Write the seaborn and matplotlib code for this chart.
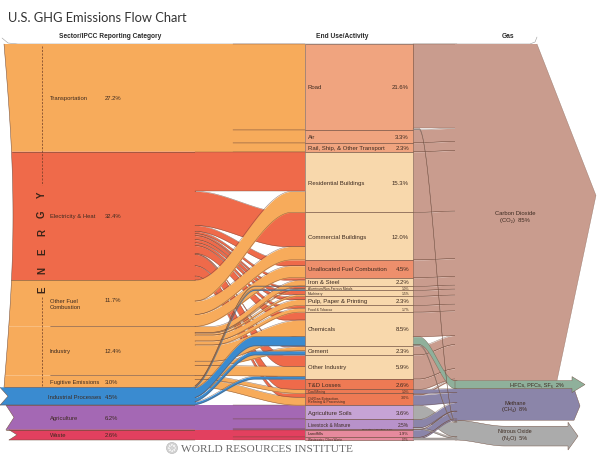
import numpy as np
import matplotlib
matplotlib.use("Agg")
import matplotlib.pyplot as plt
import seaborn as sns
from matplotlib.patches import Polygon, Circle, Rectangle

sns.set_theme(style="white")
plt.rcParams['font.family'] = ['Liberation Sans', 'DejaVu Sans']

# ---------------- DATA ----------------
sector_ids = ["trans", "elec", "fuel", "ind", "fug", "proc", "agri", "waste"]
sector_labels = ["Transportation", "Electricity & Heat", "Other Fuel\nCombustion", "Industry",
                 "Fugitive Emissions", "Industrial Processes", "Agriculture", "Waste"]
sector_pct = [27.2, 32.4, 11.7, 12.4, 3.0, 4.5, 6.2, 2.6]

end_ids = ["road", "air", "rail", "res", "com", "unal", "iron", "alu", "mach", "pulp", "food",
           "chem", "cem", "oind", "td", "coal", "oil", "soil", "live", "rice", "land", "wwater"]
end_labels = ["Road", "Air", "Rail, Ship, & Other Transport", "Residential Buildings",
              "Commercial Buildings", "Unallocated Fuel Combustion", "Iron & Steel",
              "Aluminum/Non-Ferrous Metals", "Machinery", "Pulp, Paper & Printing",
              "Food & Tobacco", "Chemicals", "Cement", "Other Industry", "T&D Losses",
              "Coal Mining", "Oil/Gas Extraction,\nRefining & Processing", "Agriculture Soils",
              "Livestock & Manure", "Rice/Other Agriculture", "Landfills", "Wastewater, Other Waste"]
end_pct = [21.6, 3.3, 2.3, 15.3, 12.0, 4.5, 2.2, 1.0, 1.5, 2.3, 1.7,
           8.5, 2.3, 5.9, 2.6, 1.0, 3.0, 3.6, 2.5, 0.1, 1.9, 0.7]

gas_ids = ["co2", "hfc", "ch4", "n2o"]
gas_labels = ["Carbon Dioxide\n(CO\u2082)  85%", "HFCs, PFCs, SF\u2086  2%",
              "Methane\n(CH\u2084)  8%", "Nitrous Oxide\n(N\u2082O)  5%"]
gas_pct = [85, 2, 8, 5]

# sector -> end use
flow_src = (["trans"] * 3 + ["elec"] * 13 + ["fuel"] * 3 + ["ind"] * 8 + ["fug"] * 2 +
            ["proc"] * 5 + ["agri"] * 3 + ["waste"] * 2)
flow_dst = ["road", "air", "rail",
            "res", "com", "unal", "iron", "alu", "mach", "pulp", "food", "chem", "cem", "oind", "td", "oil",
            "res", "com", "unal",
            "iron", "alu", "mach", "pulp", "food", "chem", "cem", "oind",
            "coal", "oil",
            "iron", "alu", "chem", "cem", "oind",
            "soil", "live", "rice",
            "land", "wwater"]
flow_val = [21.6, 3.3, 2.3,
            10.0, 8.6, 1.5, 0.6, 0.5, 1.0, 0.8, 0.7, 2.0, 0.2, 2.9, 2.6, 1.0,
            5.3, 3.4, 3.0,
            1.5, 0.2, 0.5, 1.5, 1.0, 4.1, 1.1, 2.5,
            1.0, 2.0,
            0.1, 0.3, 2.4, 1.0, 0.7,
            3.6, 2.5, 0.1,
            1.9, 0.7]

# end use -> gas
gflow_src = ["road", "road", "air", "rail", "res", "com", "unal", "iron", "alu", "mach", "pulp",
             "food", "chem", "chem", "chem", "cem", "oind", "td", "coal", "oil", "oil", "soil",
             "live", "live", "rice", "land", "wwater", "wwater"]
gflow_dst = ["co2", "n2o", "co2", "co2", "co2", "co2", "co2", "co2", "co2", "co2", "co2",
             "co2", "co2", "hfc", "n2o", "co2", "co2", "co2", "ch4", "co2", "ch4", "n2o",
             "ch4", "n2o", "ch4", "ch4", "ch4", "n2o"]
gflow_val = [21.3, 0.3, 3.3, 2.3, 15.3, 12.0, 4.5, 2.2, 1.0, 1.5, 2.3,
             1.7, 6.2, 2.0, 0.3, 2.3, 6.1, 2.6, 1.0, 0.4, 2.6, 3.6,
             2.1, 0.4, 0.1, 1.9, 0.3, 0.4]

# ---------------- STYLE / LAYOUT ----------------
W, H = 600, 456
TOP = 45
S = 3.96          # px per percent
XL1 = 195         # right edge of sector boxes
XM0, XM1 = 305, 413
XG0 = 455
EDGE = "#6e4b3c"
TXT = "#3c2a20"

sector_colors = {"trans": "#F7AB5B", "elec": "#EF6A4A", "fuel": "#F7AB5B", "ind": "#F7AB5B",
                 "fug": "#F7AB5B", "proc": "#3A8BD0", "agri": "#A468B4", "waste": "#E2405F"}
end_colors = {}
for e in end_ids:
    if e in ("road", "air", "rail"):
        end_colors[e] = "#F0A47F"
    elif e == "unal":
        end_colors[e] = "#EE8F6C"
    elif e in ("td", "coal", "oil"):
        end_colors[e] = "#EE7A54"
    elif e == "soil":
        end_colors[e] = "#C6A3D5"
    elif e in ("live", "rice"):
        end_colors[e] = "#B892CA"
    elif e in ("land", "wwater"):
        end_colors[e] = "#E68A9D"
    else:
        end_colors[e] = "#F8D8AC"
gas_colors = {"co2": "#C99C8E", "hfc": "#8FB09B", "ch4": "#8B85A9", "n2o": "#ABABAB"}
curve_range = {"trans": (195, 305), "elec": (195, 285), "fuel": (195, 292), "ind": (212, 300),
               "fug": (200, 298), "proc": (190, 255), "agri": (195, 305), "waste": (195, 305)}

fig = plt.figure(figsize=(W / 100, H / 100), dpi=100)
ax = fig.add_axes([0, 0, 1, 1])
ax.set_xlim(0, W)
ax.set_ylim(H, 0)
ax.axis("off")
fig.patch.set_facecolor("white")


def smooth(u):
    u = np.clip(u, 0, 1)
    return u * u * (3 - 2 * u)


def band(x0, x1, cx0, cx1, ya0, yb0, ya1, yb1, color, z, lw=0.35, line_from=None):
    xs = np.concatenate([[x0], np.linspace(cx0, cx1, 120), [x1]])
    s = smooth((xs - cx0) / (cx1 - cx0))
    top = ya0 + (ya1 - ya0) * s
    bot = yb0 + (yb1 - yb0) * s
    ax.fill_between(xs, top, bot, color=color, lw=0, zorder=z)
    keep = xs >= (line_from if line_from is not None else x0)
    ax.plot(xs[keep], top[keep], color=EDGE, lw=lw, zorder=z, alpha=0.75)
    ax.plot(xs[keep], bot[keep], color=EDGE, lw=lw, zorder=z, alpha=0.75)


def stack(order, vals):
    pos, c = {}, 0.0
    for k, v in zip(order, vals):
        pos[k] = TOP + c * S
        c += v
    return pos


# node sizes
end_val = {e: 0.0 for e in end_ids}
for d, v in zip(flow_dst, flow_val):
    end_val[d] += v
gas_val = {g: 0.0 for g in gas_ids}
for d, v in zip(gflow_dst, gflow_val):
    gas_val[d] += v

sec_top = stack(sector_ids, sector_pct)
sec_h = dict(zip(sector_ids, sector_pct))
end_top = stack(end_ids, [end_val[e] for e in end_ids])
gas_top = stack(gas_ids, [gas_val[g] for g in gas_ids])


def link_positions(src, dst, val, src_order, dst_order, src_top, dst_top):
    n = len(val)
    idx_out = sorted(range(n), key=lambda i: (src_order.index(src[i]), dst_order.index(dst[i])))
    idx_in = sorted(range(n), key=lambda i: (dst_order.index(dst[i]), src_order.index(src[i])))
    y0 = [0] * n
    y1 = [0] * n
    off = {}
    for i in idx_out:
        o = off.get(src[i], src_top[src[i]])
        y0[i] = o
        off[src[i]] = o + val[i] * S
    off = {}
    for i in idx_in:
        o = off.get(dst[i], dst_top[dst[i]])
        y1[i] = o
        off[dst[i]] = o + val[i] * S
    return y0, y1


# ---------------- sector boxes ----------------
energy_bottom = sec_top["fug"] + sec_h["fug"] * S


def left_x(y):
    return 4 + 9 * np.sin(np.pi * np.clip((y - TOP) / (energy_bottom - TOP), 0, 1))


for sid in sector_ids:
    y0 = sec_top[sid]
    y1 = y0 + sec_h[sid] * S
    if sid in ("proc", "agri", "waste"):
        lx = {"proc": 0, "agri": 6, "waste": 9}[sid]
        left = [(lx, y1), (lx + 8, (y0 + y1) / 2), (lx, y0)]
        pts = [(XL1 + 1, y0), (XL1 + 1, y1)] + left
        ax.plot([p[0] for p in left], [p[1] for p in left], color=EDGE, lw=0.35, zorder=1.2)
        ax.plot([lx, XL1], [y1, y1], color=EDGE, lw=0.35, zorder=1.2)
    else:
        ys = np.linspace(y0, y1, 30)
        left = [(left_x(y), y) for y in ys[::-1]]
        pts = [(XL1 + 1, y0), (XL1 + 1, y1)] + left
        ax.plot([p[0] for p in left], [p[1] for p in left], color=EDGE, lw=0.35, zorder=1.2)
    ax.add_patch(Polygon(pts, closed=True, facecolor=sector_colors[sid], edgecolor="none", zorder=1))

# separators between sectors
for sid in sector_ids[1:]:
    y = sec_top[sid]
    xs0 = 50 if sid in ("ind", "fug") else (left_x(y) if sid not in ("agri", "waste") else 6)
    ax.plot([xs0, XL1], [y, y], color=EDGE, lw=0.4, zorder=1.5)

# ---------------- sector -> end use links ----------------
y0s, y1s = link_positions(flow_src, flow_dst, flow_val, sector_ids, end_ids, sec_top, end_top)
draw_order = ["trans", "agri", "waste", "elec", "fuel", "ind", "fug", "proc"]
for k, sid in enumerate(draw_order):
    for i in range(len(flow_val)):
        if flow_src[i] != sid:
            continue
        h = flow_val[i] * S
        cx0, cx1 = curve_range[sid]
        lf = 232 if sid in ("trans", "agri", "waste") else None
        band(XL1, XM0, cx0, cx1, y0s[i], y0s[i] + h, y1s[i], y1s[i] + h,
             sector_colors[sid], 2 + k * 0.1, line_from=lf)

# ---------------- end use boxes ----------------
for e in end_ids:
    y0 = end_top[e]
    h = end_val[e] * S
    ax.add_patch(Rectangle((XM0, y0), XM1 - XM0, h, facecolor=end_colors[e],
                           edgecolor=EDGE, lw=0.4, zorder=3))

# ---------------- end use -> gas links ----------------
g0s, g1s = link_positions(gflow_src, gflow_dst, gflow_val, end_ids, gas_ids, end_top, gas_top)
order_g = sorted(range(len(gflow_val)), key=lambda i: (gflow_dst[i] != "co2", gflow_val[i] < 1))
for i in order_g:
    h = gflow_val[i] * S
    z = 2.0 if gflow_dst[i] == "co2" else 4.2
    band(XM1, XG0 + 2, XM1 + 6, XG0, g0s[i], g0s[i] + h, g1s[i], g1s[i] + h,
         gas_colors[gflow_dst[i]], z, lw=0.3)

# ---------------- gas nodes ----------------
def gtb(g):
    return gas_top[g], gas_top[g] + gas_val[g] * S


t, b = gtb("co2")
ax.add_patch(Polygon([(XG0, t), (537, t), (596, t + 0.45 * (b - t)), (557, b), (XG0, b)],
                     closed=True, facecolor=gas_colors["co2"], edgecolor="none", zorder=2.5))
ax.plot([537, 596, 557], [t, t + 0.45 * (b - t), b], color=EDGE, lw=0.3, alpha=0.6, zorder=2.6)

t, b = gtb("hfc")
m = (t + b) / 2
ax.add_patch(Polygon([(XG0, t), (572, t), (572, t - 4), (585, m), (572, b + 4), (572, b), (XG0, b)],
                     closed=True, facecolor=gas_colors["hfc"], edgecolor=EDGE, lw=0.3, zorder=4.3))

t, b = gtb("ch4")
ax.add_patch(Polygon([(XG0, t), (574, t), (580, t + 0.55 * (b - t)), (574, b), (XG0, b)],
                     closed=True, facecolor=gas_colors["ch4"], edgecolor=EDGE, lw=0.3, zorder=4.1))

t, b = gtb("n2o")
xs = np.linspace(XG0, 505, 40)
dy = 6 * smooth((xs - XG0) / (505 - XG0))
top_pts = [(x, t + d) for x, d in zip(xs, dy)] + [(568, t + 6)]
bot_pts = [(568, b + 6)] + [(x, b + d) for x, d in zip(xs[::-1], dy[::-1])]
tip = [(568, t + 2), (578, (t + b) / 2 + 6), (568, b + 10)]
ax.add_patch(Polygon(top_pts + tip + bot_pts, closed=True, facecolor=gas_colors["n2o"],
                     edgecolor=EDGE, lw=0.3, zorder=4.0))

# ---------------- text ----------------
ax.text(8, 18, "U.S. GHG Emissions Flow Chart", fontsize=9.3, family=["Lato", "DejaVu Sans"],
        color="#333333", va="center", ha="left")
hdr = dict(fontsize=4.8, fontweight="bold", color="#2a2a2a", va="center", ha="center")
ax.text(110, 37, "Sector/IPCC Reporting Category", **hdr)
ax.text(342, 37, "End Use/Activity", **hdr)
ax.text(508, 37, "Gas", **hdr)
# header tab outline
ax.plot([2, 8, 18, 530, 535, 537], [39, 44, TOP, TOP, 43, 38], color="#999999", lw=0.4, zorder=0.5)

for sid, lab, v in zip(sector_ids, sector_labels, sector_pct):
    yc = sec_top[sid] + v * S / 2
    vy = yc - 4 if "\n" in lab else yc
    lx = 48 if sid == "proc" else 50
    ax.text(lx, yc, lab, fontsize=4.2, color=TXT, va="center", ha="left", linespacing=1.3, zorder=6)
    ax.text(105, vy, f"{v:.1f}%", fontsize=4.2, color=TXT, va="center", ha="left", zorder=6)

small = {"alu": 2.3, "mach": 2.4, "food": 2.4, "coal": 2.3, "oil": 2.7, "wwater": 2.2,
         "live": 3.4, "land": 3.2, "rice": 1.7}
for e, lab, v in zip(end_ids, end_labels, end_pct):
    fs = small.get(e, 4.3)
    yc = end_top[e] + end_val[e] * S / 2
    if e == "rice":
        ax.text(362, yc - 1.5, f"{lab}  {v:.1f}%", fontsize=fs, color=TXT, va="center",
                ha="left", zorder=6)
        continue
    vy = yc - 2.2 if "\n" in lab else yc
    ax.text(308, yc, lab, fontsize=fs, color=TXT, va="center", ha="left", linespacing=0.95, zorder=6)
    ax.text(409, vy, f"{v:.1f}%", fontsize=fs, color=TXT, va="center", ha="right", zorder=6)

for g, lab in zip(gas_ids, gas_labels):
    t, b = gtb(g)
    if g == "co2":
        ax.text(515, 217, lab, fontsize=4.2, color=TXT, ha="center", va="center", linespacing=1.4, zorder=6)
    elif g == "hfc":
        ax.text(537, (t + b) / 2, lab, fontsize=4.0, color=TXT, ha="center", va="center", zorder=6)
    elif g == "ch4":
        ax.text(515, (t + b) / 2 + 1, lab, fontsize=4.0, color=TXT, ha="center", va="center",
                linespacing=1.4, zorder=6)
    else:
        ax.text(515, (t + b) / 2 + 4, lab, fontsize=4.0, color=TXT, ha="center", va="center",
                linespacing=1.4, zorder=6)

# ENERGY vertical label
for i, ch in enumerate("ENERGY"):
    ax.text(42, 290 - i * 19, ch, fontsize=7, fontweight="bold", color="#3a2418",
            rotation=90, ha="center", va="center", zorder=6)
ax.plot([42, 42], [TOP + 2, 186], color="#6b3a25", lw=0.5, ls=(0, (3, 2)), zorder=6)
ax.plot([42, 42], [298, energy_bottom], color="#6b3a25", lw=0.5, ls=(0, (3, 2)), zorder=6)

# WRI footer
ax.add_patch(Circle((172, 449), 5.5, facecolor="#d8d8d8", edgecolor="#bbbbbb", lw=0.5, zorder=6))
for a in np.linspace(0, 2 * np.pi, 8, endpoint=False):
    ax.add_patch(Circle((172 + 3 * np.cos(a), 449 + 3 * np.sin(a)), 1.6, facecolor="#f2f2f2",
                        edgecolor="#c0c0c0", lw=0.3, zorder=6.1))
ax.text(181, 449.5, "WORLD RESOURCES INSTITUTE", fontsize=8.2,
        family=["Liberation Serif", "DejaVu Serif"], color="#6a6a6a", va="center", ha="left", zorder=6)

fig.savefig("out.png", dpi=100, facecolor="white")
